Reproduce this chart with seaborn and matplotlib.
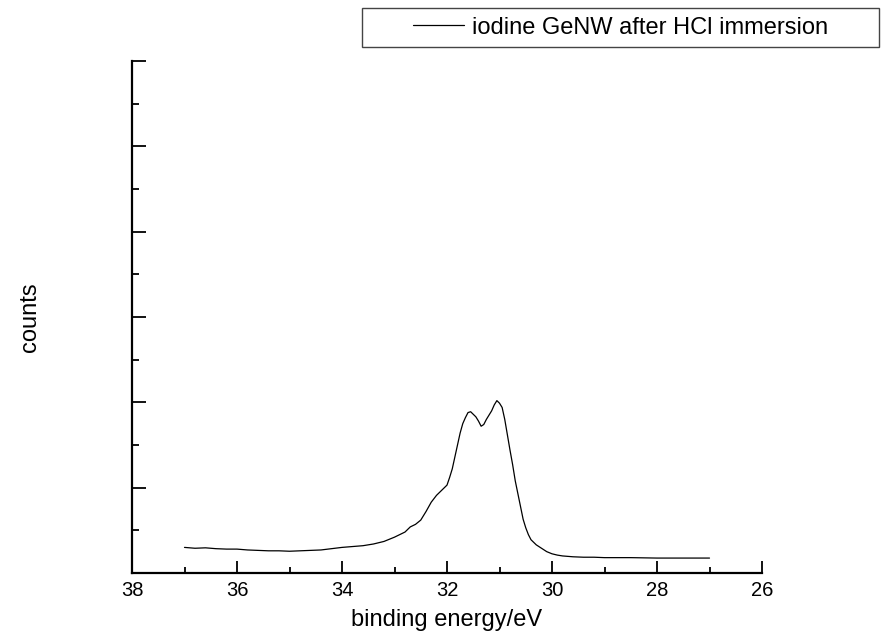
import matplotlib
matplotlib.use("Agg")
import matplotlib.pyplot as plt
import seaborn as sns
import pandas as pd
from matplotlib.patches import Rectangle
from matplotlib.ticker import MultipleLocator, NullFormatter

binding_energy = [37.0, 36.8, 36.6, 36.4, 36.2, 36.0, 35.8, 35.6, 35.4, 35.2, 35.0,
                  34.8, 34.6, 34.4, 34.2, 34.0, 33.8, 33.6, 33.4, 33.2, 33.0, 32.9,
                  32.8, 32.7, 32.6, 32.5, 32.4, 32.3, 32.2, 32.1, 32.0, 31.95, 31.9,
                  31.85, 31.8, 31.75, 31.7, 31.65, 31.6, 31.55, 31.5, 31.45, 31.4,
                  31.35, 31.3, 31.25, 31.2, 31.15, 31.1, 31.05, 31.0, 30.95, 30.9,
                  30.85, 30.8, 30.75, 30.7, 30.65, 30.6, 30.55, 30.5, 30.45, 30.4,
                  30.3, 30.2, 30.1, 30.0, 29.9, 29.8, 29.6, 29.4, 29.2, 29.0, 28.5,
                  28.0, 27.5, 27.0]
counts = [0.30, 0.29, 0.295, 0.285, 0.28, 0.28, 0.27, 0.265, 0.26, 0.26, 0.255,
          0.26, 0.265, 0.27, 0.285, 0.30, 0.31, 0.32, 0.34, 0.37, 0.42, 0.45,
          0.48, 0.54, 0.57, 0.62, 0.72, 0.83, 0.91, 0.97, 1.03, 1.12, 1.22,
          1.36, 1.50, 1.64, 1.75, 1.82, 1.88, 1.89, 1.86, 1.83, 1.78,
          1.72, 1.74, 1.80, 1.85, 1.90, 1.97, 2.02, 1.99, 1.94, 1.80,
          1.62, 1.44, 1.27, 1.08, 0.93, 0.78, 0.63, 0.53, 0.45, 0.39,
          0.33, 0.29, 0.25, 0.225, 0.21, 0.20, 0.19, 0.185, 0.185, 0.18, 0.18,
          0.175, 0.175, 0.175]
series_label = "iodine GeNW after HCl immersion"
x_ticks = [38, 36, 34, 32, 30, 28, 26]

sns.set_style("ticks")
plt.rcParams['font.family'] = ['Liberation Sans', 'DejaVu Sans']
plt.rcParams['text.color'] = 'black'
plt.rcParams['axes.labelcolor'] = 'black'
plt.rcParams['xtick.color'] = 'black'
plt.rcParams['ytick.color'] = 'black'

df = pd.DataFrame({"x": binding_energy, "y": counts})

fig = plt.figure(figsize=(8.83, 6.41), dpi=100)
ax = fig.add_axes([132/883, 1-573/641, (762-132)/883, (573-61)/641])
sns.lineplot(data=df, x="x", y="y", ax=ax, color="black", linewidth=0.9,
             sort=False, estimator=None, label=series_label)

ax.set_xlim(38, 26)
ax.set_ylim(0, 6)
ax.set_xticks(x_ticks)
ax.xaxis.set_minor_locator(MultipleLocator(1))
ax.yaxis.set_major_locator(MultipleLocator(1))
ax.yaxis.set_minor_locator(MultipleLocator(0.5))
ax.yaxis.set_major_formatter(NullFormatter())
ax.tick_params(axis='both', which='major', direction='in', length=10, width=1.3,
               labelsize=14.5, colors='black', pad=6)
ax.tick_params(axis='both', which='minor', direction='in', length=5, width=1.3,
               colors='black')
ax.tick_params(axis='x', which='major', length=9)
ax.tick_params(axis='x', which='minor', length=4.5)
for s in ['top', 'right']:
    ax.spines[s].set_visible(False)
for s in ['left', 'bottom']:
    ax.spines[s].set_linewidth(1.6)
    ax.spines[s].set_color('black')

ax.set_xlabel("binding energy/eV", fontsize=17, labelpad=6, color='black')
ax.set_ylabel("counts", fontsize=17, va='center', color='black')
ax.yaxis.set_label_coords(-(132 - 30) / 630, 0.5)

leg = ax.legend(loc='center', bbox_to_anchor=(620.5/883, 1-27.5/641),
                bbox_transform=fig.transFigure, frameon=False, fontsize=17,
                handlelength=2.16, handletextpad=0.35, borderpad=0, borderaxespad=0)
for t in leg.get_texts():
    t.set_color('black')
for h in leg.get_lines():
    h.set_linewidth(0.9)
fig.patches.append(Rectangle((362/883, 1-47/641), (879-362)/883, 39/641,
                             transform=fig.transFigure, fill=True, facecolor='white',
                             edgecolor='#444444', linewidth=1.0, zorder=-1))

fig.savefig("out.png", dpi=100)
